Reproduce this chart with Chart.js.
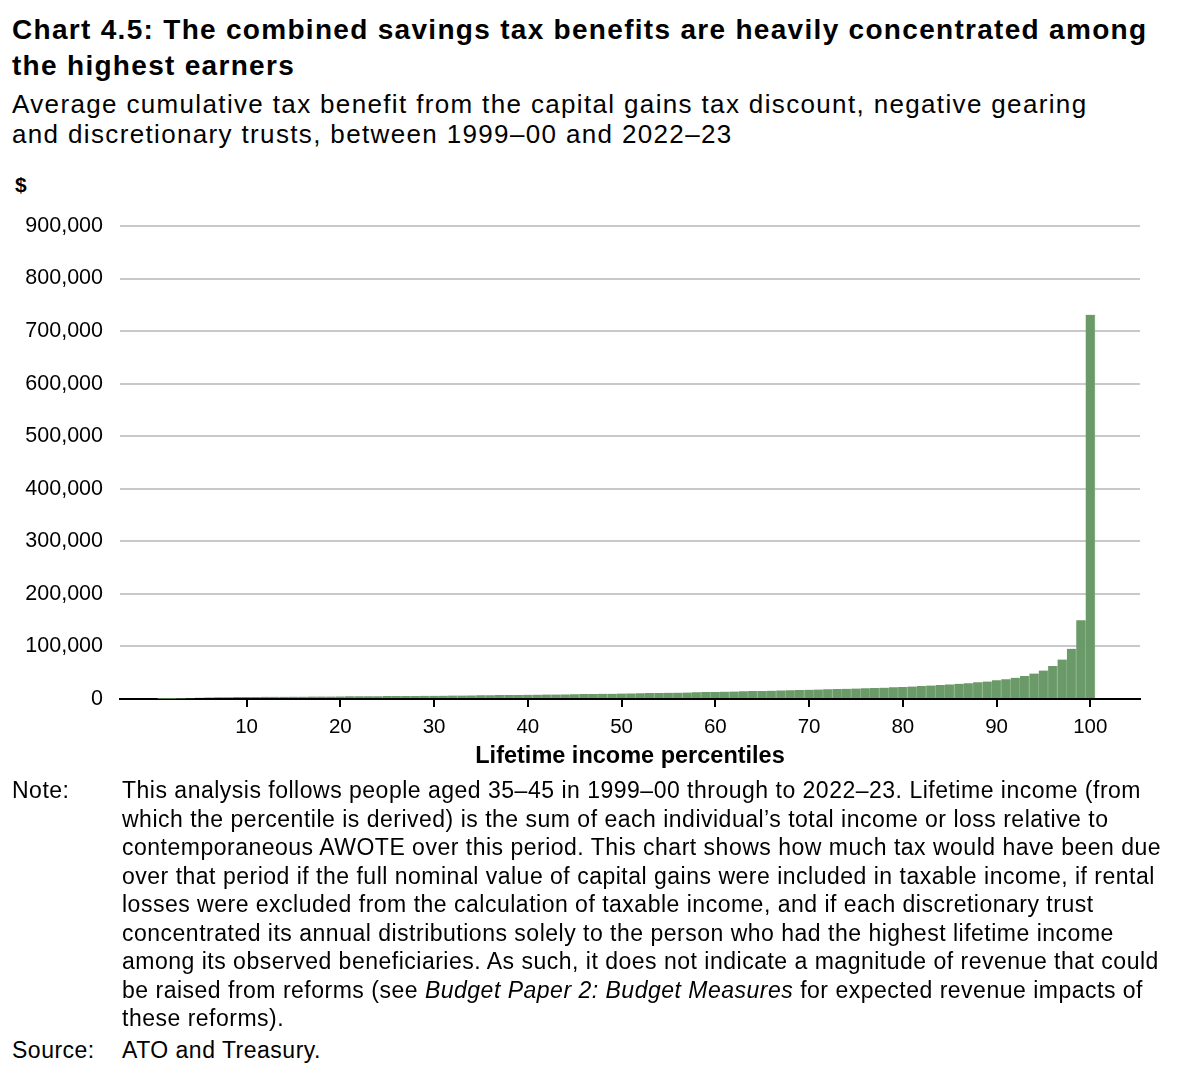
<!DOCTYPE html>
<html>
<head>
<meta charset="utf-8">
<script src="https://cdn.jsdelivr.net/npm/chart.js@4"></script>
<style>
  html, body { margin:0; padding:0; background:#fff; }
  body { width:1200px; height:1075px; position:relative; overflow:hidden; font-family:"Liberation Sans", Arial, sans-serif; color:#000; }
  .abs { position:absolute; white-space:nowrap; }
  #title { left:12px; top:12px; font-size:28px; font-weight:bold; line-height:36px; letter-spacing:1.3px; }
  #subtitle { left:12px; top:89px; font-size:26px; line-height:30px; letter-spacing:1.35px; }
  #dollar { left:15px; top:172px; font-size:21px; font-weight:bold; line-height:26px; }
  #chartBox { left:0; top:160px; width:1200px; height:620px; }
  .note { font-size:23px; line-height:28.5px; letter-spacing:0.5px; }
  #noteLbl { left:12px; top:776px; }
  #noteTxt { left:122px; top:776px; }
  #srcLbl { left:12px; top:1036px; }
  #srcTxt { left:122px; top:1036px; }
</style>
</head>
<body>
<div id="title" class="abs">Chart 4.5: The combined savings tax benefits are heavily concentrated among<br>the highest earners</div>
<div id="subtitle" class="abs">Average cumulative tax benefit from the capital gains tax discount, negative gearing<br>and discretionary trusts, between 1999–00 and 2022–23</div>
<div id="dollar" class="abs">$</div>
<div id="chartBox" class="abs"><canvas id="c"></canvas></div>
<div id="noteLbl" class="abs note">Note:</div>
<div id="noteTxt" class="abs note">This analysis follows people aged 35–45 in 1999–00 through to 2022–23. Lifetime income (from<br>which the percentile is derived) is the sum of each individual’s total income or loss relative to<br>contemporaneous AWOTE over this period. This chart shows how much tax would have been due<br>over that period if the full nominal value of capital gains were included in taxable income, if rental<br>losses were excluded from the calculation of taxable income, and if each discretionary trust<br>concentrated its annual distributions solely to the person who had the highest lifetime income<br>among its observed beneficiaries. As such, it does not indicate a magnitude of revenue that could<br>be raised from reforms (see <i>Budget Paper 2: Budget Measures</i> for expected revenue impacts of<br>these reforms).</div>
<div id="srcLbl" class="abs note">Source:</div>
<div id="srcTxt" class="abs note">ATO and Treasury.</div>
<script>
const percentiles = [];
for (let i = 1; i <= 100; i++) percentiles.push(i);

const benefit = [
  300, 500, 800, 1300, 2600, 3000, 3300, 3500, 3700, 3900,
  4000, 4100, 4200, 4300, 4400, 4500, 4600, 4700, 4800, 4900,
  5000, 5100, 5200, 5300, 5500, 5600, 5700, 5900, 6000, 6200,
  6300, 6500, 6600, 6800, 7000, 7200, 7400, 7600, 7800, 8000,
  8200, 8400, 8600, 8800, 9000, 9300, 9500, 9800, 10000, 10300,
  10600, 10900, 11200, 11500, 11800, 12100, 12400, 12800, 13100, 13500,
  13900, 14200, 14600, 15000, 15400, 15800, 16300, 16700, 17000, 17400,
  17900, 18400, 18900, 19400, 19900, 20400, 21000, 21500, 22200, 22800,
  23700, 24600, 25700, 26800, 27700, 29000, 30200, 31800, 33200, 35700,
  37600, 40300, 44000, 48500, 54000, 63000, 75000, 95500, 150000, 731000
];

const xTickValues = [10, 20, 30, 40, 50, 60, 70, 80, 90, 100];
const yTickStep = 100000;
const yMax = 900000;

const FONT = '"Liberation Sans", Arial, sans-serif';

new Chart(document.getElementById('c'), {
  type: 'bar',
  data: {
    datasets: [{
      data: percentiles.map((p, i) => ({ x: p, y: benefit[i] })),
      backgroundColor: '#6b9a69',
      borderColor: '#8cb189',
      borderWidth: { right: 1, left: 0, top: 0, bottom: 0 },
      borderSkipped: false,
      barPercentage: 1,
      categoryPercentage: 1
    }]
  },
  options: {
    responsive: true,
    maintainAspectRatio: false,
    animation: false,
    layout: { padding: { top: 66, right: 60, left: 0, bottom: 0 } },
    plugins: { legend: { display: false }, tooltip: { enabled: false } },
    scales: {
      x: {
        type: 'linear',
        min: -3.5,
        max: 105.3,
        offset: false,
        afterBuildTicks: s => { s.ticks = xTickValues.map(v => ({ value: v })); },
        afterFit: s => { s.height = 81; },
        grid: { display: true, drawOnChartArea: false, drawTicks: true, tickLength: 8, color: '#000', lineWidth: 2, offset: false },
        border: { display: true, color: '#000', width: 2 },
        ticks: { font: { family: FONT, size: 20.5 }, color: '#000', padding: 8, maxRotation: 0, autoSkip: false },
        title: { display: true, text: 'Lifetime income percentiles', font: { family: FONT, size: 23.5, weight: 'bold' }, color: '#000', padding: { top: 0, bottom: 9 } }
      },
      y: {
        min: 0,
        max: yMax,
        afterFit: s => { s.width = 120; },
        grid: { color: '#c8c8cd', lineWidth: 2, drawTicks: false },
        border: { display: false },
        ticks: {
          stepSize: yTickStep,
          padding: 17,
          color: '#000',
          font: { family: FONT, size: 21.5 },
          callback: v => v.toLocaleString('en-US')
        }
      }
    }
  }
});
</script>
</body>
</html>
